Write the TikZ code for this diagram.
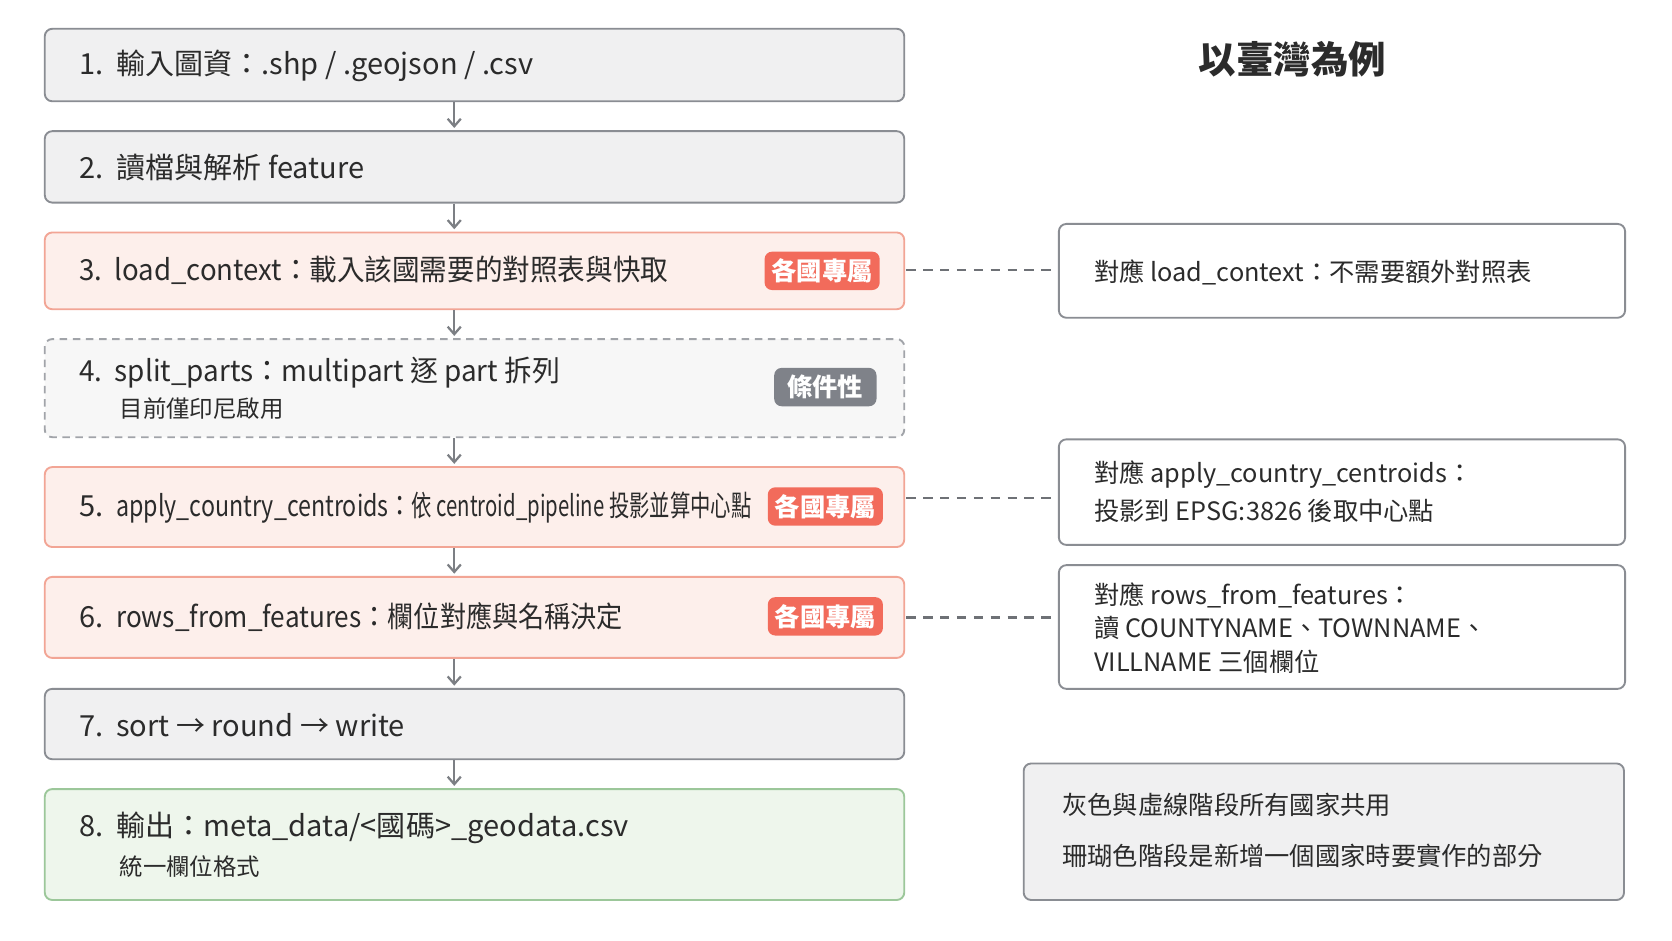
\documentclass[tikz,border=0pt]{standalone}
\usepackage{fontspec}
\setmainfont{Noto Sans CJK TC}
\usetikzlibrary{arrows.meta}
\definecolor{gfill}{HTML}{F0F0F1}
\definecolor{gline}{HTML}{8A8D93}
\definecolor{cfill}{HTML}{FDEFEB}
\definecolor{cline}{HTML}{F2A595}
\definecolor{badge}{HTML}{F26B5B}
\definecolor{bgray}{HTML}{7F8289}
\definecolor{vfill}{HTML}{EEF6EC}
\definecolor{vline}{HTML}{9CC79A}
\definecolor{txt}{HTML}{2B2B2B}
\begin{document}
\begin{tikzpicture}[x=0.02cm,y=-0.02cm,
  box/.style={rounded corners=4pt,line width=1pt},
  gbox/.style={box,draw=gline,fill=gfill},
  cbox/.style={box,draw=cline,fill=cfill},
  dbox/.style={box,draw=gline!80,fill=white!97!black,dashed,dash pattern=on 4pt off 3pt},
  vbox/.style={box,draw=vline,fill=vfill},
  rbox/.style={box,draw=gline,fill=white},
  lbl/.style={anchor=west,text=txt,font=\fontsize{15.5}{18}\selectfont},
  sub/.style={anchor=west,text=txt,font=\fontsize{12.5}{14}\selectfont},
  rt/.style={anchor=west,text=txt,font=\fontsize{13.5}{16}\selectfont},
  bd/.style={rounded corners=4pt,fill=badge,text=white,font=\fontsize{13.5}{15}\bfseries\selectfont,minimum width=1.08cm*2,minimum height=0.72cm,inner sep=0pt},
  arr/.style={-{Straight Barb[length=4pt,width=7pt]},line width=1.2pt,draw=gline!90!black},
  dl/.style={dashed,dash pattern=on 5pt off 4pt,line width=1.2pt,draw=gline!80!black}]
\fill[white] (0,0) rectangle (1568,882);
% left column
\draw[gbox] (42,27) rectangle (848,95);
\node[lbl] (t1) at (68,62) {1.\ \ 輸入圖資：.shp / .geojson / .csv};
\draw[gbox] (42,123) rectangle (848,190);
\node[lbl] (t2) at (68,157) {2.\ \ 讀檔與解析 feature};
\draw[cbox] (42,218) rectangle (848,290);
\node[lbl] (t3) at (68,253) {\scalebox{0.95}[1]{3.\ \ load\_context：載入該國需要的對照表與快取}};
\node[bd] (g3) at (771,254) {各國專屬};
\draw[dbox] (42,318) rectangle (848,410);
\node[lbl] (t4) at (68,349) {\scalebox{0.96}[1]{4.\ \ split\_parts：multipart 逐 part 拆列}};
\node[sub] (s4) at (106,383) {目前僅印尼啟用};
\node[bd,fill=bgray,minimum width=1.92cm] (g4) at (774,363) {條件性};
\draw[cbox] (42,438) rectangle (848,513);
\node[lbl] (t5) at (68,476) {5.\ \ \scalebox{0.8}[1]{apply\_country\_centroids：}\scalebox{0.7}[1]{依 centroid\_pipeline 投影並算中心點}};
\node[bd] (g5) at (774,475) {各國專屬};
\draw[cbox] (42,541) rectangle (848,617);
\node[lbl] (t6) at (68,579) {6.\ \ \scalebox{0.9}[1]{rows\_from\_features：欄位對應與名稱決定}};
\node[bd] (g6) at (774,578) {各國專屬};
\draw[gbox] (42,646) rectangle (848,712);
\node[lbl] (t7) at (68,680) {7.\ \ sort → round → write};
\draw[vbox] (42,740) rectangle (848,844);
\node[lbl] (t8) at (68,776) {8.\ \ 輸出：meta\_data/<國碼>\_geodata.csv};
\node[sub] (s8) at (106,813) {統一欄位格式};
% arrows
\foreach \ya/\yb in {96/120,191/215,291/315,411/435,514/538,618/643,713/737}
  \draw[arr] (426,\ya) -- (426,\yb);
% right
\node[font=\fontsize{20}{22}\bfseries\selectfont,text=txt] (title) at (1212,56) {以臺灣為例};
\draw[rbox] (993,210) rectangle (1524,298);
\node[rt] (r3) at (1020,255) {對應 load\_context：不需要額外對照表};
\draw[rbox] (993,412) rectangle (1524,511);
\node[rt,align=left] (r5) at (1020,461) {對應 apply\_country\_centroids：\\[4pt]投影到 EPSG:3826 後取中心點};
\draw[rbox] (993,530) rectangle (1524,646);
\node[rt,align=left] (r6) at (1020,589) {對應 rows\_from\_features：\\[2pt]讀 COUNTYNAME、TOWNNAME、\\[2pt]VILLNAME 三個欄位};
\draw[box,draw=gline,fill=gfill] (960,716) rectangle (1523,844);
\node[rt] (l1) at (990,755) {灰色與虛線階段所有國家共用};
\node[rt] (l2) at (990,803) {珊瑚色階段是新增一個國家時要實作的部分};
% dashed connectors
\draw[dl] (850,253) -- (991,253);
\draw[dl] (850,467) -- (991,467);
\draw[dl] (850,579) -- (991,579);
\end{tikzpicture}
\end{document}
